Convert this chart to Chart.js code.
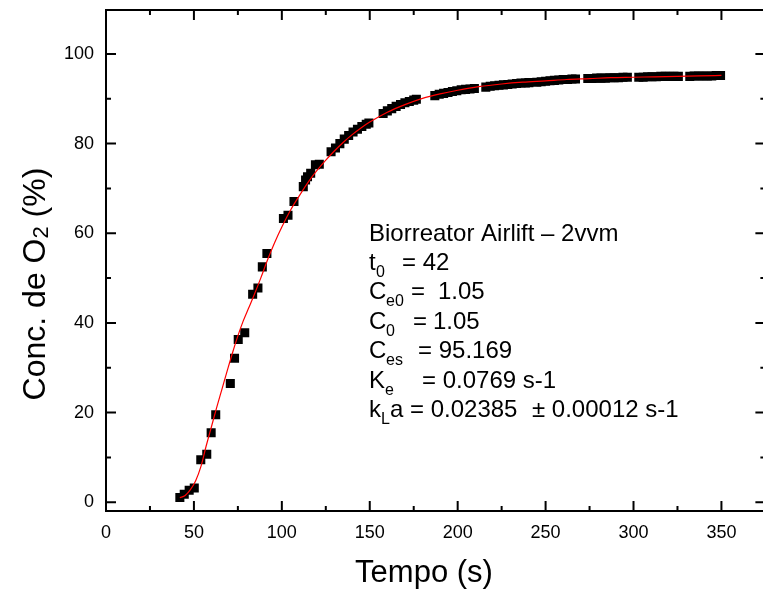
<!DOCTYPE html>
<html>
<head>
<meta charset="utf-8">
<script src="https://cdn.jsdelivr.net/npm/chart.js@4.4.0/dist/chart.umd.min.js"></script>
<style>
html,body{margin:0;padding:0;background:#fff;overflow:hidden;}
canvas{display:block;}
</style>
</head>
<body>
<canvas id="c" width="763" height="591"></canvas>
<script>
// ---- Data ----
// Measured points: time (s) and O2 concentration (%)
const timeMeasured = [
  42,44.5,47.3,50.2,53.9,57.3,59.8,62.4,70.7,73.1,75.2,78.9,83.4,86.4,88.9,91.5,
  100.9,103.5,106.9,112.2,113.5,114.6,116.4,119.1,121.3,
  128,130.5,133,135.5,138,140.5,143,145.5,148,149.5,
  157.6,160,162.5,165,167.5,170,172.5,175,176.5,
  187,189.5,192,194.5,197,199.5,202,204.5,207,209.5,
  216,218.5,221,223.5,226,228.5,231,233.5,236,238.5,240.5,
  245,247.5,250,252.5,255,257.5,260,262.5,265,267,
  274,276.5,279,281.5,284,286.5,289,291.5,294,296.5,
  303,305.5,308,310.5,313,315.5,318,320.5,323,325.5,
  332,334.5,337,339.5,342,344.5,347,349.5
];
const concMeasured = [
  1.05,1.8,2.7,3.2,9.5,10.7,15.5,19.5,26.5,32.1,36.3,37.8,46.4,47.8,52.5,55.5,
  63.3,64.0,67.1,70.4,71.9,72.6,73.4,75.3,75.4,
  78.2,79.0,80.0,81.0,81.8,82.6,83.2,83.8,84.3,84.6,
  86.7,87.3,87.8,88.3,88.7,89.1,89.4,89.7,89.9,
  90.7,91.0,91.2,91.4,91.6,91.8,92.0,92.1,92.2,92.3,
  92.6,92.8,92.9,93.0,93.1,93.2,93.3,93.4,93.5,93.5,93.6,
  93.7,93.8,93.9,94.0,94.1,94.2,94.3,94.3,94.4,94.4,
  94.5,94.5,94.6,94.6,94.6,94.7,94.7,94.7,94.8,94.8,
  94.8,94.8,94.9,94.9,94.9,95.0,95.0,95.0,95.0,95.0,
  95.0,95.1,95.1,95.1,95.1,95.1,95.2,95.2
];
// Fitted curve (red line)
const timeFit = [42,45,48,51,54,57,60,63,66,69,72,75,78,81,84,88,92,96,100,105,110,115,120,125,130,135,140,145,150,160,170,180,190,200,212,225,237,250,262,275,287,300,312,325,337,350];
const concFit = [1.0,1.5,2.8,4.8,8.0,12.6,16.9,21.2,25.3,29.4,33.4,37.1,40.4,43.2,46.0,50.0,54.2,58.0,61.4,65.2,68.4,71.4,74.0,76.3,78.4,80.3,82.0,83.5,84.8,87.0,88.7,90.1,91.1,91.9,92.7,93.3,93.7,94.0,94.3,94.5,94.7,94.8,94.9,95.0,95.1,95.2];

// Tick values
const xMajorTicks = [0,50,100,150,200,250,300,350];
const xMinorTicks = [25,75,125,175,225,275,325,375];
const yMajorTicks = [0,20,40,60,80,100];
const yMinorTicks = [10,30,50,70,90];

// Text
const xTitle = 'Tempo (s)';
const yTitleParts = [['Conc. de O',0],['2',1],[' (%)',0]];
const annotation = [
  [[369,'Biorreator Airlift \u2013 2vvm',0]],
  [[369,'t',0],[376,'0',1],[402,'= 42',0]],
  [[369,'C',0],[386,'e0',1],[411,'=',0],[438,'1.05',0]],
  [[369,'C',0],[386,'0',1],[413,'=',0],[433,'1.05',0]],
  [[369,'C',0],[386,'es',1],[418,'= 95.169',0]],
  [[369,'K',0],[385,'e',1],[422,'= 0.0769 s-1',0]],
  [[369,'k',0],[381,'L',1],[390,'a = 0.02385',0],[532,'\u00b1 0.00012 s-1',0]]
];

const FONT = '"Liberation Sans", Arial, Helvetica, sans-serif';

const framePlugin = {
  id: 'frame',
  afterDraw(chart) {
    const ctx = chart.ctx, a = chart.chartArea;
    const xs = chart.scales.x, ys = chart.scales.y;
    const L = a.left, T = a.top, B = a.bottom, R = xs.getPixelForValue(375);
    ctx.save();
    ctx.strokeStyle = '#000';
    ctx.lineWidth = 2;
    ctx.beginPath();
    ctx.rect(L, T, R - L, B - T);
    ctx.stroke();
    const major = 10, minor = 5;
    ctx.beginPath();
    xMajorTicks.forEach(v => { const p = xs.getPixelForValue(v); ctx.moveTo(p, B); ctx.lineTo(p, B - major); ctx.moveTo(p, T); ctx.lineTo(p, T + major); });
    xMinorTicks.forEach(v => { const p = xs.getPixelForValue(v); ctx.moveTo(p, B); ctx.lineTo(p, B - minor); ctx.moveTo(p, T); ctx.lineTo(p, T + minor); });
    yMajorTicks.forEach(v => { const p = ys.getPixelForValue(v); ctx.moveTo(L, p); ctx.lineTo(L + major, p); ctx.moveTo(R, p); ctx.lineTo(R - major, p); });
    yMinorTicks.forEach(v => { const p = ys.getPixelForValue(v); ctx.moveTo(L, p); ctx.lineTo(L + minor, p); ctx.moveTo(R, p); ctx.lineTo(R - minor, p); });
    ctx.stroke();

    // axis titles
    ctx.fillStyle = '#000';
    ctx.textBaseline = 'alphabetic';
    ctx.font = '31px ' + FONT;
    ctx.textAlign = 'center';
    ctx.fillText(xTitle, 424, 582);

    // y title rotated with subscript
    ctx.save();
    ctx.translate(45, 284);
    ctx.rotate(-Math.PI / 2);
    ctx.textAlign = 'left';
    const mainF = '32px ' + FONT, subF = '22px ' + FONT;
    let total = 0;
    yTitleParts.forEach(([t, s]) => { ctx.font = s ? subF : mainF; total += ctx.measureText(t).width; });
    let cx = -total / 2;
    yTitleParts.forEach(([t, s]) => {
      ctx.font = s ? subF : mainF;
      ctx.fillText(t, cx, s ? 3 : 0);
      cx += ctx.measureText(t).width;
    });
    ctx.restore();

    // annotation block
    ctx.textAlign = 'left';
    annotation.forEach((line, i) => {
      const base = 240.5 + 29.4 * i;
      line.forEach(([x, t, s]) => {
        ctx.font = (s ? '16px ' : '24px ') + FONT;
        ctx.fillText(t, x, s ? base + 7 : base);
      });
    });
    ctx.restore();
  }
};

function zeroPad(s) { s.paddingTop = 0; s.paddingBottom = 0; s.paddingLeft = 0; s.paddingRight = 0; }

new Chart(document.getElementById('c'), {
  data: {
    datasets: [
      {
        type: 'line',
        data: timeFit.map((t, i) => ({x: t, y: concFit[i]})),
        borderColor: '#ff0000',
        borderWidth: 1.2,
        pointRadius: 0,
        fill: false,
        cubicInterpolationMode: 'monotone'
      },
      {
        type: 'scatter',
        data: timeMeasured.map((t, i) => ({x: t, y: concMeasured[i]})),
        pointStyle: 'rect',
        pointRadius: 6.4,
        borderWidth: 0,
        backgroundColor: '#000',
        borderColor: '#000'
      }
    ]
  },
  options: {
    responsive: false,
    animation: false,
    events: [],
    layout: {padding: {top: 10, right: 0, left: 0, bottom: 0}},
    plugins: {legend: {display: false}, tooltip: {enabled: false}},
    scales: {
      x: {
        type: 'linear',
        min: 0, max: 370,
        afterBuildTicks: s => { s.ticks = xMajorTicks.map(v => ({value: v})); },
        afterFit: s => { s.height = 80; zeroPad(s); },
        grid: {display: false, drawTicks: false},
        border: {display: false},
        ticks: {color: '#000', padding: 11, maxRotation: 0, autoSkip: false, font: {family: FONT, size: 18}, callback: v => String(v)}
      },
      y: {
        type: 'linear',
        min: -1.95, max: 109.8,
        afterBuildTicks: s => { s.ticks = yMajorTicks.map(v => ({value: v})); },
        afterFit: s => { s.width = 106; zeroPad(s); },
        grid: {display: false, drawTicks: false},
        border: {display: false},
        ticks: {color: '#000', padding: 12, autoSkip: false, font: {family: FONT, size: 18}, callback: v => String(v)}
      }
    }
  },
  plugins: [framePlugin]
});
</script>
</body>
</html>
